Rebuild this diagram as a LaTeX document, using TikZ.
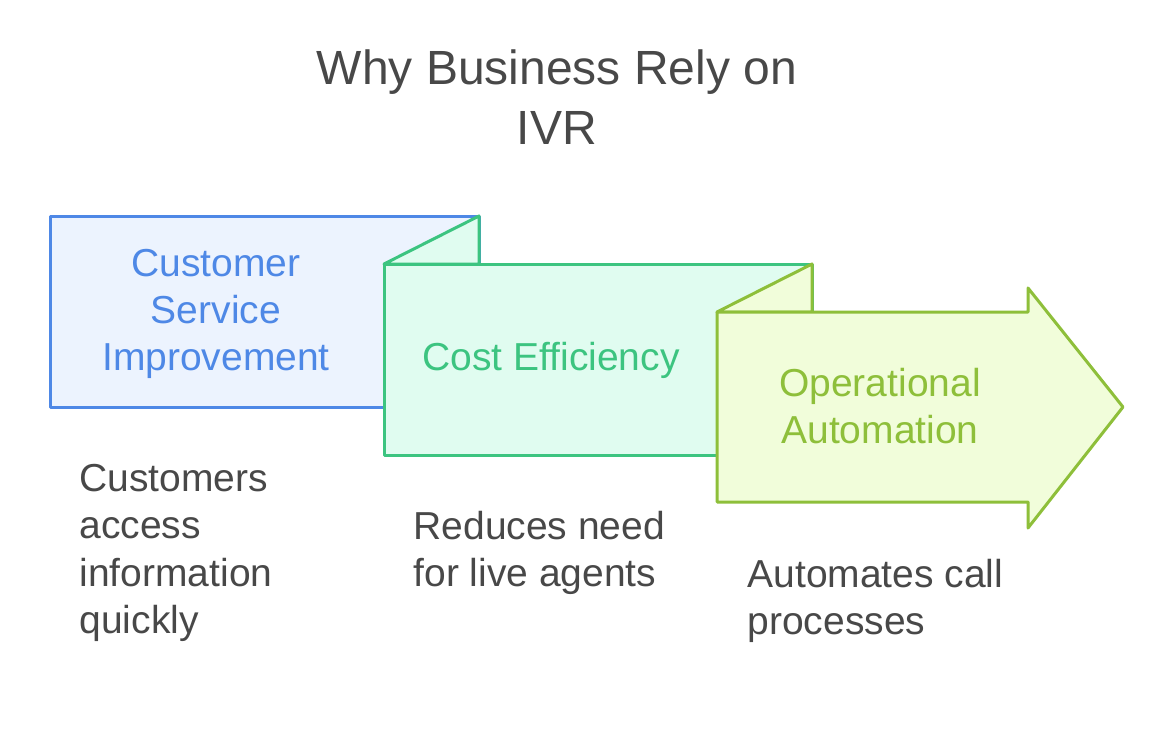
\documentclass[tikz,border=0pt]{standalone}
\usepackage{fontspec}
\setmainfont{Liberation Sans}
\usepackage{tikz}

\definecolor{ink}{HTML}{484848}
\definecolor{blueline}{HTML}{4E88E6}
\definecolor{bluefill}{HTML}{ECF3FE}
\definecolor{greenline}{HTML}{3CC480}
\definecolor{greenfill}{HTML}{E0FCF0}
\definecolor{limeline}{HTML}{8EBF3A}
\definecolor{limefill}{HTML}{F1FDDA}

\begin{document}
\begin{tikzpicture}[
            x=1pt, y=-1pt,
            panel/.style={line width=3pt, line join=round},
            title text/.style={color=ink, align=center, font=\fontsize{48}{60}\selectfont},
            box text/.style={align=center, font=\fontsize{39}{47}\selectfont},
            note text/.style={color=ink, align=left, anchor=west, font=\fontsize{39}{47.5}\selectfont}
            ]
            \useasboundingbox (0,0) rectangle (1173,744);

            % title
            \node[title text] (title) at (557,97) {Why Business Rely on\\IVR};

            % panels
            \draw[panel, draw=blueline, fill=bluefill] (50,216) -- (479,216) -- (479,407) -- (50,407) -- cycle;
            \draw[panel, draw=greenline, fill=greenfill] (384,264) -- (479,216) -- (479,264) -- cycle;
            \draw[panel, draw=greenline, fill=greenfill] (384,264) -- (812,264) -- (812,455) -- (384,455) -- cycle;
            \draw[panel, draw=limeline, fill=limefill] (717,312) -- (812,264) -- (812,312) -- cycle;
            \draw[panel, draw=limeline, fill=limefill] (717,312) -- (1028,312) -- (1028,288) -- (1123,407)
                  -- (1028,528) -- (1028,502) -- (717,502) -- cycle;

            % panel labels
            \node[box text, color=blueline] (service) at (216,314) {Customer\\Service\\Improvement};
            \node[box text, color=greenline] (cost) at (551,360) {Cost Efficiency};
            \node[box text, color=limeline] (automation) at (880,406) {Operational\\Automation};

            % notes
            \node[note text] (servicenote) at (76,553) {Customers\\access\\information\\quickly};
            \node[note text] (costnote) at (410,553) {Reduces need\\for live agents};
            \node[note text] (automationnote) at (744,601) {Automates call\\processes};

        \end{tikzpicture}
\end{document}
